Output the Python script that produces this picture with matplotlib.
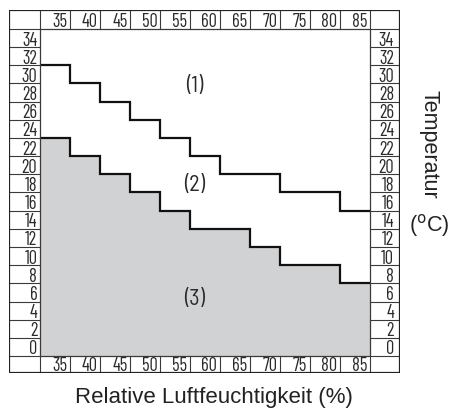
import matplotlib
matplotlib.use("Agg")
import matplotlib.pyplot as plt
from matplotlib.patches import Rectangle

# ---- data ----
humidity_labels = [35, 40, 45, 50, 55, 60, 65, 70, 75, 80, 85]
humidity_edges = [30, 35, 40, 45, 50, 55, 60, 65, 70, 75, 80, 85]
temp_labels = [34, 32, 30, 28, 26, 24, 22, 20, 18, 16, 14, 12, 10, 8, 6, 4, 2, 0]
limit_1 = [32, 30, 28, 26, 24, 22, 20, 20, 18, 18, 16]   # upper step line
limit_2 = [24, 22, 20, 18, 16, 14, 14, 12, 10, 10, 8]    # top of grey area
region_labels = ["(1)", "(2)", "(3)"]
region_pos_x = [55.8, 55.8, 55.8]
region_pos_y = [29.7, 18.8, 6.2]

X0, X1 = 30, 85
Y0, Y1 = 0, 36
XL, XR = 24.83, 90.0
YB, YT = -1.87, 38.09

fig = plt.figure(figsize=(4.54, 4.17), dpi=100)
ax = fig.add_axes([9 / 454, 44 / 417, 391 / 454, 363 / 417])
ax.set_xlim(XL, XR)
ax.set_ylim(YB, YT)
ax.axis("off")

narrow = ["Barlow Condensed", "Liberation Sans Narrow", "DejaVu Sans"]
semi = ["Barlow Semi Condensed", "Barlow Condensed", "DejaVu Sans"]
reg = ["Liberation Sans", "DejaVu Sans"]

grey = "#d1d2d4"
ax.stairs(limit_2, humidity_edges, baseline=Y0, fill=True, color=grey, lw=0, zorder=1)
ax.stairs(limit_2, humidity_edges, baseline=None, color="#111111", lw=1.6, zorder=3)
ax.stairs(limit_1, humidity_edges, baseline=None, color="#111111", lw=1.6, zorder=3)

linec = "#3a3a3a"
# label bands grid
for v in range(0, 38, 2):
    ax.plot([XL, X0], [v, v], color=linec, lw=0.8, zorder=2)
    ax.plot([X1, XR], [v, v], color=linec, lw=0.8, zorder=2)
for h in humidity_edges:
    ax.plot([h, h], [Y1, YT], color=linec, lw=0.8, zorder=2)
    ax.plot([h, h], [YB, Y0], color=linec, lw=0.8, zorder=2)
# inner plot border
ax.add_patch(Rectangle((X0, Y0), X1 - X0, Y1 - Y0, fill=False, ec=linec, lw=0.9, zorder=4))
# outer frame
ax.add_patch(Rectangle((XL, YB), XR - XL, YT - YB, fill=False, ec="#222222", lw=1.6, zorder=5))

fs_tick = 13.3
for h in humidity_labels:
    ax.text(h - 0.45, Y1 + 0.22, str(h), ha="right", va="baseline", fontsize=fs_tick,
            family=narrow, weight=400, color="#2a2a2a")
    ax.text(h - 0.45, YB + 0.25, str(h), ha="right", va="baseline", fontsize=fs_tick,
            family=narrow, weight=400, color="#2a2a2a")
for v in temp_labels:
    ax.text(X0 - 0.45, v + 0.18, str(v), ha="right", va="baseline", fontsize=fs_tick,
            family=narrow, weight=400, color="#2a2a2a")
    ax.text(XR - 1.0, v + 0.18, str(v), ha="right", va="baseline", fontsize=fs_tick,
            family=narrow, weight=400, color="#2a2a2a")

for lab, x, y in zip(region_labels, region_pos_x, region_pos_y):
    ax.text(x, y, lab, ha="center", va="center", fontsize=16, family=semi, weight=400,
            color="#2a2a2a")

fig.text(214 / 454, 1 - 398 / 417, "Relative Luftfeuchtigkeit (%)", ha="center", va="center",
         fontsize=16, family=reg, color="#222222")
fig.text(429 / 454, 1 - 144 / 417, "Temperatur", ha="center", va="center", rotation=-90,
         fontsize=15.5, family=reg, color="#222222")
fig.text(429 / 454, 1 - 226 / 417, "($^{\\mathrm{o}}$C)", ha="center", va="center",
         fontsize=15.5, family=reg, color="#222222")

fig.savefig("out.png", dpi=100)
